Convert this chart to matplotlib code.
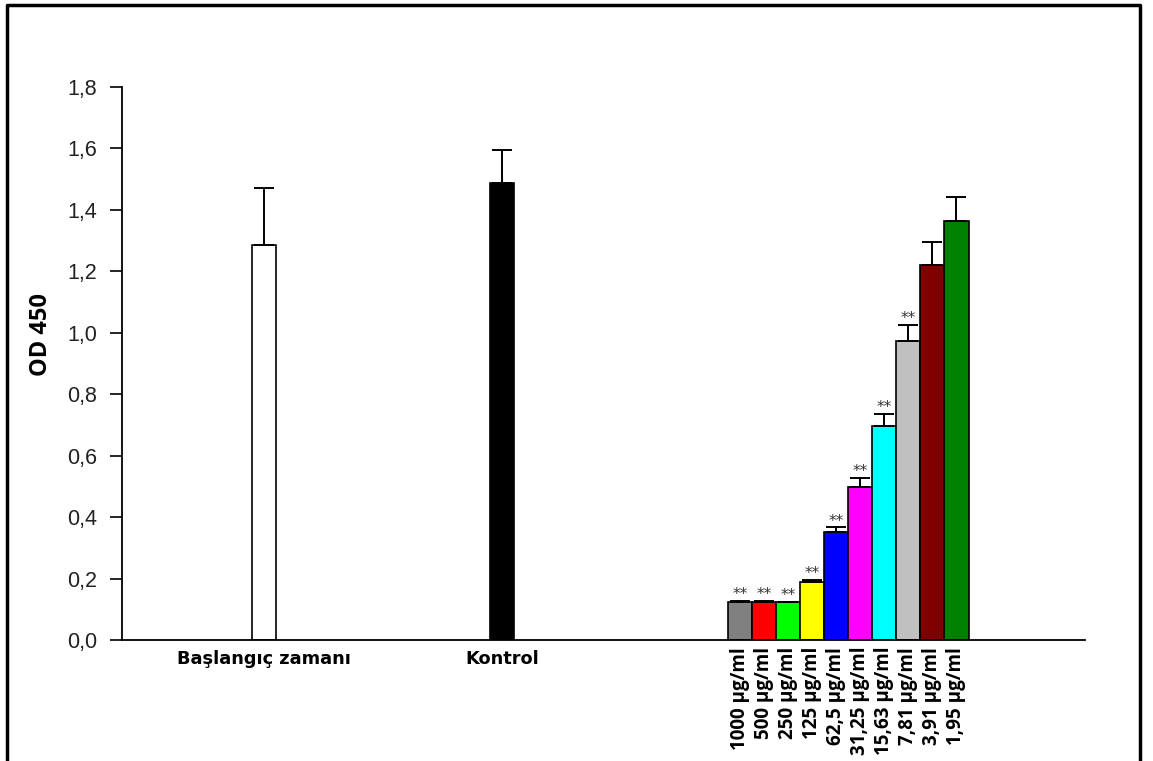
import matplotlib.pyplot as plt
from matplotlib.lines import Line2D

# OD450 readings (mean and upper SD)
groups = ["Başlangıç zamanı", "Kontrol"]
group_means = [1.285, 1.485]
group_sd = [0.185, 0.11]
group_colors = ["white", "black"]

doses = ["1000 µg/ml", "500 µg/ml", "250 µg/ml", "125 µg/ml", "62,5 µg/ml",
         "31,25 µg/ml", "15,63 µg/ml", "7,81 µg/ml", "3,91 µg/ml", "1,95 µg/ml"]
dose_means = [0.125, 0.124, 0.122, 0.19, 0.35, 0.496, 0.697, 0.972, 1.22, 1.362]
dose_sd = [0.003, 0.003, 0.003, 0.006, 0.016, 0.031, 0.039, 0.053, 0.073, 0.08]
dose_colors = ["#808080", "#ff0000", "#00ff00", "#ffff00", "#0000ff",
               "#ff00ff", "#00ffff", "#c0c0c0", "#800000", "#008000"]
significant = [True, True, True, True, True, True, True, True, False, False]

group_x = [5.92, 15.83]
dose_x = [25.75 + i for i in range(len(doses))]

fig = plt.figure(figsize=(11.53, 7.61), dpi=100)
ax = fig.add_axes([0.1058, 0.159, 0.8352, 0.7273])

err_kw = dict(ecolor="black", elinewidth=1.4, capsize=7, capthick=1.4)
ax.bar(group_x, group_means, width=1.0, color=group_colors, edgecolor="black",
       linewidth=1.2, yerr=[[0, 0], group_sd], error_kw=err_kw, zorder=2)
ax.bar(dose_x, dose_means, width=1.0, color=dose_colors, edgecolor="black",
       linewidth=1.2, yerr=[[0] * len(doses), dose_sd], error_kw=err_kw, zorder=2)

for x, m, s, sig in zip(dose_x, dose_means, dose_sd, significant):
    if sig:
        ax.text(x, m + s - 0.004, "**", ha="center", va="bottom",
                fontsize=11, color="#333333")

ax.set_xlim(0, 40.1)
ax.set_ylim(0, 1.8)
ax.set_yticks([i * 0.2 for i in range(10)])
ax.set_yticklabels([f"{i * 0.2:.1f}".replace(".", ",") for i in range(10)],
                   family="Liberation Sans", fontsize=15.5, color="#222222")
ax.tick_params(axis="y", direction="out", length=9, width=1.2, pad=9)
ax.set_xticks([])
for side in ["top", "right"]:
    ax.spines[side].set_visible(False)
for side in ["left", "bottom"]:
    ax.spines[side].set_linewidth(1.3)

fig.text(41 / 1153, 1 - 335 / 761, "OD 450", rotation=90, ha="center",
         va="center", family="Open Sans", fontweight="bold", fontsize=17)

for x, name in zip(group_x, groups):
    ax.text(x, -0.033, name, ha="center", va="top", fontweight="bold",
            fontsize=12.8)

for x, name in zip(dose_x, doses):
    ax.text(x, -0.022, name, ha="center", va="top", rotation=90,
            family="Open Sans", fontweight="bold", fontsize=13.5)

# page frame (open at the bottom)
fig.add_artist(Line2D([0.0065, 0.0065, 0.9885, 0.9885],
                      [0.0, 0.994, 0.994, 0.0], color="black", lw=2.5,
                      transform=fig.transFigure))

fig.savefig("out.png", dpi=100)
